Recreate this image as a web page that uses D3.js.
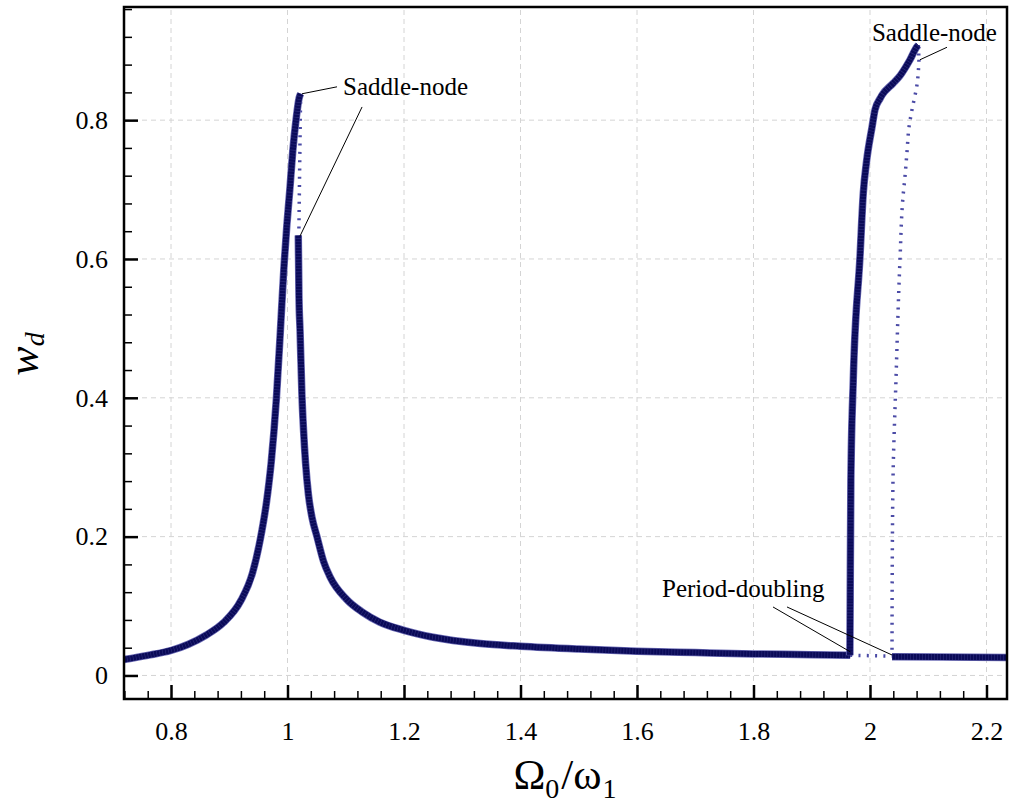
<!DOCTYPE html>
<html>
<head>
<meta charset="utf-8">
<script src="https://cdn.jsdelivr.net/npm/d3@7"></script>
<style>
body { margin: 0; background: #fff; }
svg text { font-family: "Liberation Serif", Tinos, "Times New Roman", Times, "DejaVu Serif", serif; fill: #000; }
</style>
</head>
<body>
<div id="chart"></div>
<script>
var xTicks = [0.8, 1, 1.2, 1.4, 1.6, 1.8, 2, 2.2];
var yTicks = [0, 0.2, 0.4, 0.6, 0.8];

// [Omega0/omega1, w_d]
var stableLeft = [
    [0.7193, 0.023], [0.76, 0.029], [0.80, 0.036], [0.83, 0.045], [0.86, 0.058],
    [0.89, 0.076], [0.92, 0.108], [0.94, 0.148], [0.953, 0.195], [0.964, 0.25],
    [0.972, 0.307], [0.981, 0.40], [0.988, 0.50], [0.994, 0.59], [0.999, 0.65],
    [1.004, 0.70], [1.009, 0.755], [1.015, 0.803], [1.020, 0.832], [1.0225, 0.838]
];
var unstableLeft = [[1.0225, 0.838], [1.021, 0.74], [1.0195, 0.636]];
var stableTail = [
    [1.0185, 0.634], [1.0197, 0.545], [1.0215, 0.498], [1.0249, 0.401], [1.0275, 0.354],
    [1.031, 0.306], [1.036, 0.26], [1.042, 0.228], [1.0506, 0.2], [1.062, 0.164],
    [1.073, 0.142], [1.101, 0.110], [1.129, 0.091], [1.158, 0.077], [1.2, 0.065],
    [1.25, 0.055], [1.331, 0.046], [1.4, 0.042], [1.5, 0.038], [1.6, 0.035],
    [1.7, 0.033], [1.8, 0.031], [1.9, 0.030], [1.966, 0.029]
];
var stableRight = [
    [1.9655, 0.029], [1.966, 0.113], [1.9672, 0.282], [1.9713, 0.426], [1.9828, 0.603],
    [1.9885, 0.695], [1.994, 0.74], [2.0035, 0.79], [2.0086, 0.815], [2.0172, 0.831],
    [2.0206, 0.836], [2.0395, 0.853], [2.0515, 0.864], [2.0687, 0.887], [2.0807, 0.906],
    [2.083, 0.908]
];
var unstableRight = [
    [2.083, 0.908], [2.0841, 0.887], [2.0807, 0.851], [2.0721, 0.815], [2.067, 0.79],
    [2.0635, 0.754], [2.06, 0.718], [2.0567, 0.69], [2.0515, 0.599], [2.0446, 0.426],
    [2.0395, 0.282], [2.038, 0.113], [2.0378, 0.028]
];
var unstableLow = [[1.966, 0.029], [2.0378, 0.028]];
var stableLow = [[2.0378, 0.027], [2.12, 0.0265], [2.2352, 0.026]];

var notes = [
    {text: "Saddle-node", at: [1.0953, 0.836], lines: [[[1.085, 0.848], [1.0249, 0.838]], [[1.128, 0.819], [1.0215, 0.633]]]},
    {text: "Saddle-node", at: [2.0034, 0.914], lines: [[[2.1322, 0.905], [2.0858, 0.887]]]},
    {text: "Period-doubling", at: [1.643, 0.113], lines: [[[1.8335, 0.0987], [1.9665, 0.0339]], [[1.8575, 0.0987], [2.0378, 0.0295]]]}
];

var width = 1014,
    height = 805;

var svg = d3.select("#chart").append("svg")
    .attr("width", width)
    .attr("height", height);

var x = d3.scaleLinear().domain([0.7193, 2.2352]).range([124, 1007]),
    y = d3.scaleLinear().domain([-0.0339, 0.963]).range([699, 7]);

// grid
svg.append("g").selectAll("line")
    .data(xTicks)
    .enter().append("line")
    .attr("x1", function(d) { return x(d); })
    .attr("x2", function(d) { return x(d); })
    .attr("y1", y.range()[0])
    .attr("y2", y.range()[1])
    .style("stroke", "#d4d4d4")
    .style("stroke-dasharray", "5,4");

svg.append("g").selectAll("line")
    .data(yTicks)
    .enter().append("line")
    .attr("y1", function(d) { return y(d); })
    .attr("y2", function(d) { return y(d); })
    .attr("x1", x.range()[0])
    .attr("x2", x.range()[1])
    .style("stroke", "#d4d4d4")
    .style("stroke-dasharray", "5,4");

// curves
function lineWith(curve) {
    return d3.line()
        .x(function(d) { return x(d[0]); })
        .y(function(d) { return y(d[1]); })
        .curve(curve);
}
var lineX = lineWith(d3.curveMonotoneX),
    lineY = lineWith(d3.curveMonotoneY),
    lineStraight = lineWith(d3.curveLinear);

var curves = svg.append("g");

function dotted(d) {
    curves.append("path")
        .attr("d", d)
        .style("fill", "none")
        .style("stroke", "#4b4ba6")
        .style("stroke-width", 3.5)
        .style("stroke-dasharray", "2,6.3");
}
function solid(d) {
    curves.append("path")
        .attr("d", d)
        .style("fill", "none")
        .style("stroke", "#6a6ab4")
        .style("stroke-width", 7.5);
    curves.append("path")
        .attr("d", d)
        .style("fill", "none")
        .style("stroke", "#0a0a58")
        .style("stroke-width", 6);
    curves.append("path")
        .attr("d", d)
        .style("fill", "none")
        .style("stroke", "#5a5aa8")
        .style("stroke-width", 6)
        .style("stroke-opacity", 0.45)
        .style("stroke-dasharray", "0.6,2.4");
}

dotted(lineStraight(unstableLeft));
dotted(lineY(unstableRight.slice(1)));
dotted(lineStraight(unstableRight.slice(0, 2)));
dotted(lineStraight(unstableLow));
solid(lineX(stableLeft));
solid(lineX(stableTail));
solid(lineX(stableRight));
solid(lineStraight(stableLow));

// annotations
var ann = svg.append("g");
notes.forEach(function(n) {
    ann.append("text")
        .attr("x", x(n.at[0]))
        .attr("y", y(n.at[1]))
        .style("font-size", "25px")
        .text(n.text);
    n.lines.forEach(function(l) {
        ann.append("line")
            .attr("x1", x(l[0][0])).attr("y1", y(l[0][1]))
            .attr("x2", x(l[1][0])).attr("y2", y(l[1][1]))
            .style("stroke", "#000")
            .style("stroke-width", 1);
    });
});

// axes (ticks point inward)
var fmt = d3.format("~g");
var xMinor = d3.range(0.72, 2.235, 0.04).filter(function(v) {
    return Math.abs(v * 5 - Math.round(v * 5)) > 1e-6;
});
var yMinor = d3.range(0.04, 0.963, 0.04).filter(function(v) {
    return Math.abs(v * 5 - Math.round(v * 5)) > 1e-6;
});

var xAxis = svg.append("g")
    .attr("transform", "translate(0," + y.range()[0] + ")")
    .call(d3.axisBottom(x).tickValues(xTicks).tickSize(-14).tickPadding(23).tickFormat(fmt));
var xAxisMinor = svg.append("g")
    .attr("transform", "translate(0," + y.range()[0] + ")")
    .call(d3.axisBottom(x).tickValues(xMinor).tickSize(-8).tickFormat(""));

var yAxis = svg.append("g")
    .attr("transform", "translate(" + x.range()[0] + ",0)")
    .call(d3.axisLeft(y).tickValues(yTicks).tickSize(-14).tickPadding(16).tickFormat(fmt));
var yAxisMinor = svg.append("g")
    .attr("transform", "translate(" + x.range()[0] + ",0)")
    .call(d3.axisLeft(y).tickValues(yMinor).tickSize(-8).tickFormat(""));

[xAxis, xAxisMinor, yAxis, yAxisMinor].forEach(function(g) {
    g.attr("font-family", null).attr("font-size", null);
    g.select(".domain").remove();
    g.selectAll("text")
        .style("font-size", "26px")
        .style("fill", "#000");
});
xAxis.selectAll("line").style("stroke-width", 2.5);
yAxis.selectAll("line").style("stroke-width", 2.5);
xAxisMinor.selectAll("line").style("stroke-width", 1.5);
yAxisMinor.selectAll("line").style("stroke-width", 1.5);

// frame
svg.append("rect")
    .attr("x", x.range()[0])
    .attr("y", y.range()[1])
    .attr("width", x.range()[1] - x.range()[0])
    .attr("height", y.range()[0] - y.range()[1])
    .style("fill", "none")
    .style("stroke", "#000")
    .style("stroke-width", 2.5);

// axis titles
var xTitle = svg.append("text")
    .attr("x", 565)
    .attr("y", 789)
    .attr("text-anchor", "middle")
    .style("font-size", "43px");
xTitle.append("tspan").text("Ω");
xTitle.append("tspan").attr("dy", 9).style("font-size", "28px").text("0");
xTitle.append("tspan").attr("dy", -9).attr("dx", 2).text("/ω");
xTitle.append("tspan").attr("dy", 9).attr("dx", 1).style("font-size", "28px").text("1");

var yTitle = svg.append("text")
    .attr("transform", "translate(38,354) rotate(-90)")
    .attr("text-anchor", "middle")
    .style("font-size", "44px")
    .style("font-style", "italic");
yTitle.append("tspan").text("w");
yTitle.append("tspan").attr("dy", 6).style("font-size", "28px").text("d");
</script>
</body>
</html>
